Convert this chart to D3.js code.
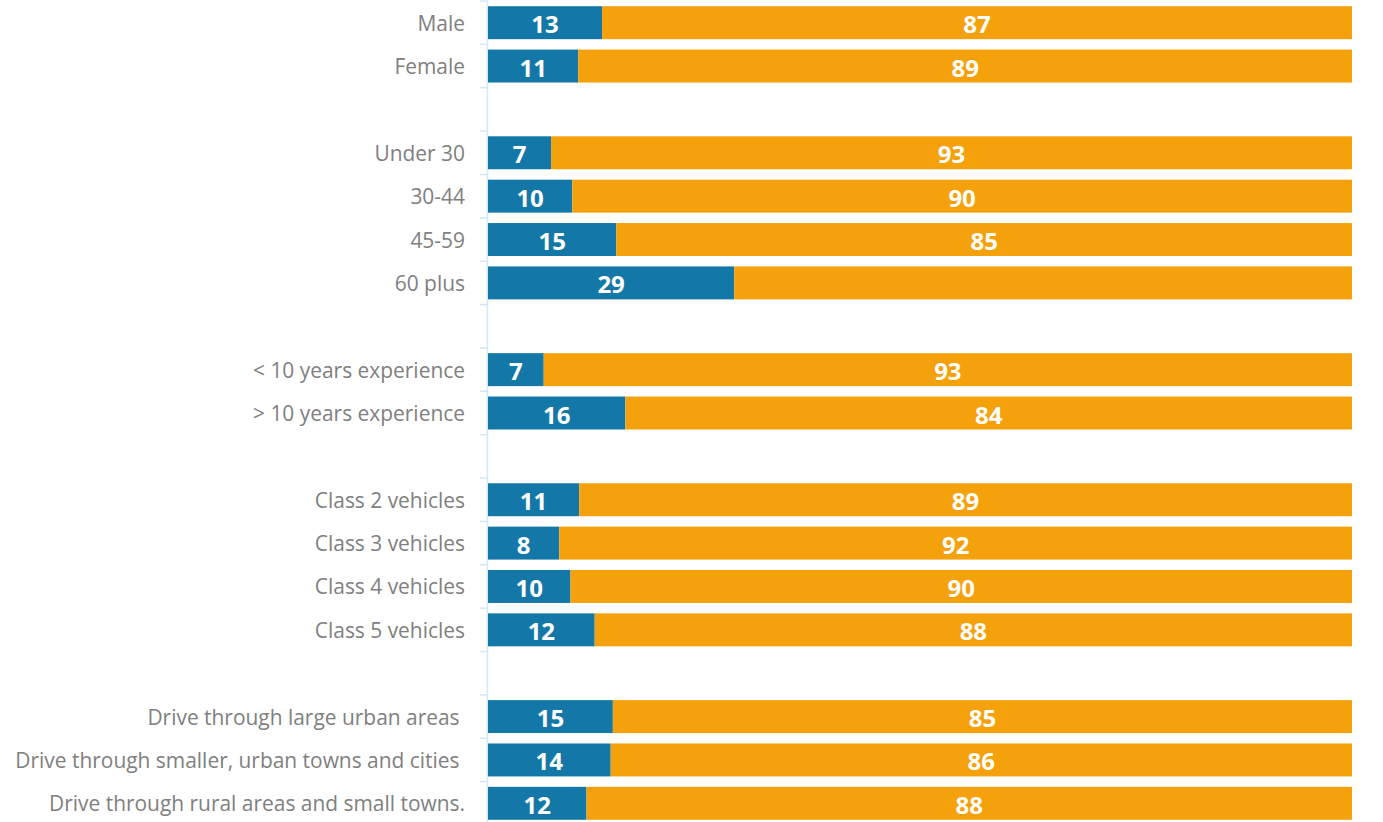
<!DOCTYPE html>
<html>
<head>
<meta charset="utf-8">
<script src="https://cdn.jsdelivr.net/npm/d3@7"></script>
<style>
  body { margin: 0; background: #ffffff; }
  svg { display: block; }
</style>
</head>
<body>
<div id="canvas"></div>
<script>
"use strict"

/* Data: rows in order, blank rows separate the groups */
let categories = ["Male", "Female", "gap1",
    "Under 30", "30-44", "45-59", "60 plus", "gap2",
    "< 10 years experience", "> 10 years experience", "gap3",
    "Class 2 vehicles", "Class 3 vehicles", "Class 4 vehicles", "Class 5 vehicles", "gap4",
    "Drive through large urban areas ", "Drive through smaller, urban towns and cities ",
    "Drive through rural areas and small towns."];

/* segment shares (%) as drawn, and the numbers printed on them */
let blueValues = [13.2, 10.45, null, 7.3, 9.75, 14.85, 28.5, null, 6.45, 15.9, null,
    10.55, 8.25, 9.55, 12.35, null, 14.45, 14.2, 11.4];
let orangeValues = [86.8, 89.55, null, 92.7, 90.25, 85.15, 71.5, null, 93.55, 84.1, null,
    89.45, 91.75, 90.45, 87.65, null, 85.55, 85.8, 88.6];
let blueLabels = ["13", "11", null, "7", "10", "15", "29", null, "7", "16", null,
    "11", "8", "10", "12", null, "15", "14", "12"];
/* the 60 plus orange segment carries no label in the original */
let orangeLabels = ["87", "89", null, "93", "90", "85", null, null, "93", "84", null,
    "89", "92", "90", "88", null, "85", "86", "88"];

/* Drawing config */
let svgWidth = 1383;
let svgHeight = 822;
let left = 488;
let right = 1352;
let blue = "#1378a8";
let orange = "#f5a10b";
let labelFont = "'Open Sans', sans-serif";

let svg = d3.select("#canvas")
    .append("svg")
    .attr("width", svgWidth)
    .attr("height", svgHeight);

let xScale = d3.scaleLinear()
    .domain([0, 100])
    .range([left, right]);

let yScale = d3.scaleBand()
    .domain(categories)
    .range([1, 825])
    .paddingInner(0.24)
    .paddingOuter(0.12);

let rows = categories.map(function (c, i) {
    return {cat: c, blue: blueValues[i], orange: orangeValues[i],
            bLabel: blueLabels[i], oLabel: orangeLabels[i]};
}).filter(function (d) { return d.blue !== null; });

/* Axis line with ticks at band boundaries */
let step = yScale.step();
let y0 = yScale.range()[0];
let axis = svg.append("g");
axis.append("line")
    .attr("x1", left - 0.5).attr("x2", left - 0.5)
    .attr("y1", y0).attr("y2", y0 + step * categories.length)
    .attr("stroke", "#d3e8f6")
    .attr("stroke-width", 1.5);
axis.selectAll(".tick")
    .data(d3.range(categories.length + 1))
    .join("line")
    .attr("x1", left - 8).attr("x2", left)
    .attr("y1", function (i) { return y0 + i * step; })
    .attr("y2", function (i) { return y0 + i * step; })
    .attr("stroke", "#d3e8f6")
    .attr("stroke-width", 1.5);

/* Bars */
svg.selectAll(".blueBar")
    .data(rows)
    .join("rect")
    .attr("x", xScale(0))
    .attr("y", function (d) { return yScale(d.cat); })
    .attr("width", function (d) { return xScale(d.blue) - xScale(0); })
    .attr("height", yScale.bandwidth())
    .attr("fill", blue);

svg.selectAll(".orangeBar")
    .data(rows)
    .join("rect")
    .attr("x", function (d) { return xScale(d.blue); })
    .attr("y", function (d) { return yScale(d.cat); })
    .attr("width", function (d) { return xScale(d.blue + d.orange) - xScale(d.blue); })
    .attr("height", yScale.bandwidth())
    .attr("fill", orange);

/* Value labels */
function valueLabel(sel) {
    sel.attr("text-anchor", "middle")
        .attr("dominant-baseline", "central")
        .attr("font-family", labelFont)
        .attr("font-weight", "bold")
        .attr("font-size", "24px")
        .attr("fill", "white");
}

svg.selectAll(".blueLabel")
    .data(rows)
    .join("text")
    .attr("x", function (d) { return (xScale(0) + xScale(d.blue)) / 2; })
    .attr("y", function (d) { return yScale(d.cat) + yScale.bandwidth() / 2 + 1; })
    .call(valueLabel)
    .text(function (d) { return d.bLabel; });

svg.selectAll(".orangeLabel")
    .data(rows.filter(function (d) { return d.oLabel !== null; }))
    .join("text")
    .attr("x", function (d) { return (xScale(d.blue) + xScale(d.blue + d.orange)) / 2; })
    .attr("y", function (d) { return yScale(d.cat) + yScale.bandwidth() / 2 + 1; })
    .call(valueLabel)
    .text(function (d) { return d.oLabel; });

/* Category labels */
let catLabels = svg.selectAll(".catLabel")
    .data(rows)
    .join("text")
    .attr("x", 465)
    .attr("y", function (d) { return yScale(d.cat) + yScale.bandwidth() / 2; })
    .attr("text-anchor", "end")
    .attr("dominant-baseline", "central")
    .attr("font-family", labelFont)
    .attr("font-size", "20px")
    .attr("fill", "#808080")
    .style("white-space", "pre")
    .text(function (d) { return d.cat; });

/* fit the font so the longest label spans the same width as the original (~444px) */
let longest = d3.max(catLabels.nodes(), function (n) { return n.getComputedTextLength(); });
let fitted = 20 * 450 / longest;
catLabels.attr("font-size", fitted + "px");
</script>
</body>
</html>
